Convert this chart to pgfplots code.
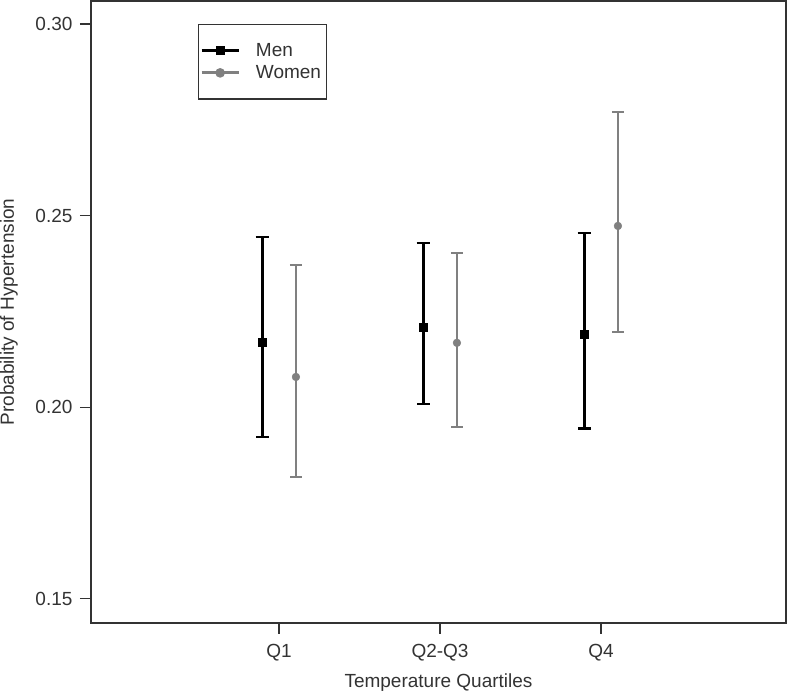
\documentclass[border=0pt]{standalone}
\usepackage{fontspec}
\setmainfont{Liberation Sans}
\usepackage{pgfplots}
\usepackage{pgfplotstable}
\pgfplotsset{compat=1.18}
\definecolor{wgray}{RGB}{128,128,128}
\definecolor{txt}{RGB}{51,51,51}

\pgfplotstableread{
x y lo hi
0.895 0.2170 0.1923 0.2444
1.895 0.2209 0.2009 0.2429
2.895 0.2191 0.1944 0.2455
}\men
\pgfplotstableread{
x y lo hi
1.105 0.2079 0.1818 0.2371
2.105 0.2168 0.1949 0.2403
3.105 0.2473 0.2197 0.2770
}\women

\begin{document}
\begin{tikzpicture}[x=1pt,y=1pt]
\useasboundingbox (0,0) rectangle (788,693);
\begin{axis}[
  at={(91pt,70pt)}, anchor=south west, scale only axis,
  width=695pt, height=622pt,
  xmin=-0.168, xmax=4.149, ymin=0.1437, ymax=0.3060,
  xtick={1,2,3}, xticklabels={Q1,Q2-Q3,Q4},
  ytick={0.15,0.20,0.25,0.30},
  yticklabel style={xshift=-4pt, /pgf/number format/.cd, fixed, fixed zerofill, precision=2},
  /pgf/number format/assume math mode=true,
  tick align=outside, xtick pos=bottom, ytick pos=left,
  major tick length=11pt,
  tick style={line width=1.2pt, txt},
  axis line style={line width=1.5pt, txt},
  tick label style={font=\fontsize{19}{23}\selectfont, text=txt},
  xticklabel style={yshift=-7pt},
  label style={font=\fontsize{19}{23}\selectfont, text=txt},
  xlabel={Temperature Quartiles}, ylabel={Probability of Hypertension},
  xlabel style={at={(axis description cs:0.5,-0.1045)}, anchor=base},
  ylabel style={at={(axis description cs:-0.111,0.5)}, anchor=base},
  legend style={at={(axis description cs:0.154,0.963)}, anchor=north west,
    draw=txt, line width=1.2pt, font=\fontsize{19}{23}\selectfont, text=txt,
    inner xsep=1.5pt, inner ysep=15pt, nodes={inner sep=3.8pt},
    /tikz/every odd column/.append style={column sep=12pt}},
  legend cell align=left,
]
\addplot[only marks, black, mark=square*, mark size=4pt,
  legend image code/.code={
    \draw[line width=3pt, black] (0pt,0pt) -- (37pt,0pt);
    \draw[black] plot[mark=square*, mark size=4pt] coordinates {(18.5pt,0pt)};},
  error bars/.cd, y dir=both, y explicit,
  error bar style={line width=3.2pt, black},
  error mark options={rotate=90, mark size=6.5pt, line width=2.4pt, black}]
  table[x=x, y=y, y error plus expr=\thisrow{hi}-\thisrow{y}, y error minus expr=\thisrow{y}-\thisrow{lo}] {\men};
\addlegendentry{Men}
\addplot[only marks, wgray, mark=*, mark size=3.9pt,
  legend image code/.code={
    \draw[line width=3pt, wgray] (0pt,0pt) -- (37pt,0pt);
    \draw[wgray] plot[mark=*, mark size=4.2pt] coordinates {(18.5pt,0pt)};},
  error bars/.cd, y dir=both, y explicit,
  error bar style={line width=2.6pt, wgray},
  error mark options={rotate=90, mark size=6pt, line width=2.2pt, wgray}]
  table[x=x, y=y, y error plus expr=\thisrow{hi}-\thisrow{y}, y error minus expr=\thisrow{y}-\thisrow{lo}] {\women};
\addlegendentry{Women\hspace{13pt}}
\end{axis}
\end{tikzpicture}
\end{document}
